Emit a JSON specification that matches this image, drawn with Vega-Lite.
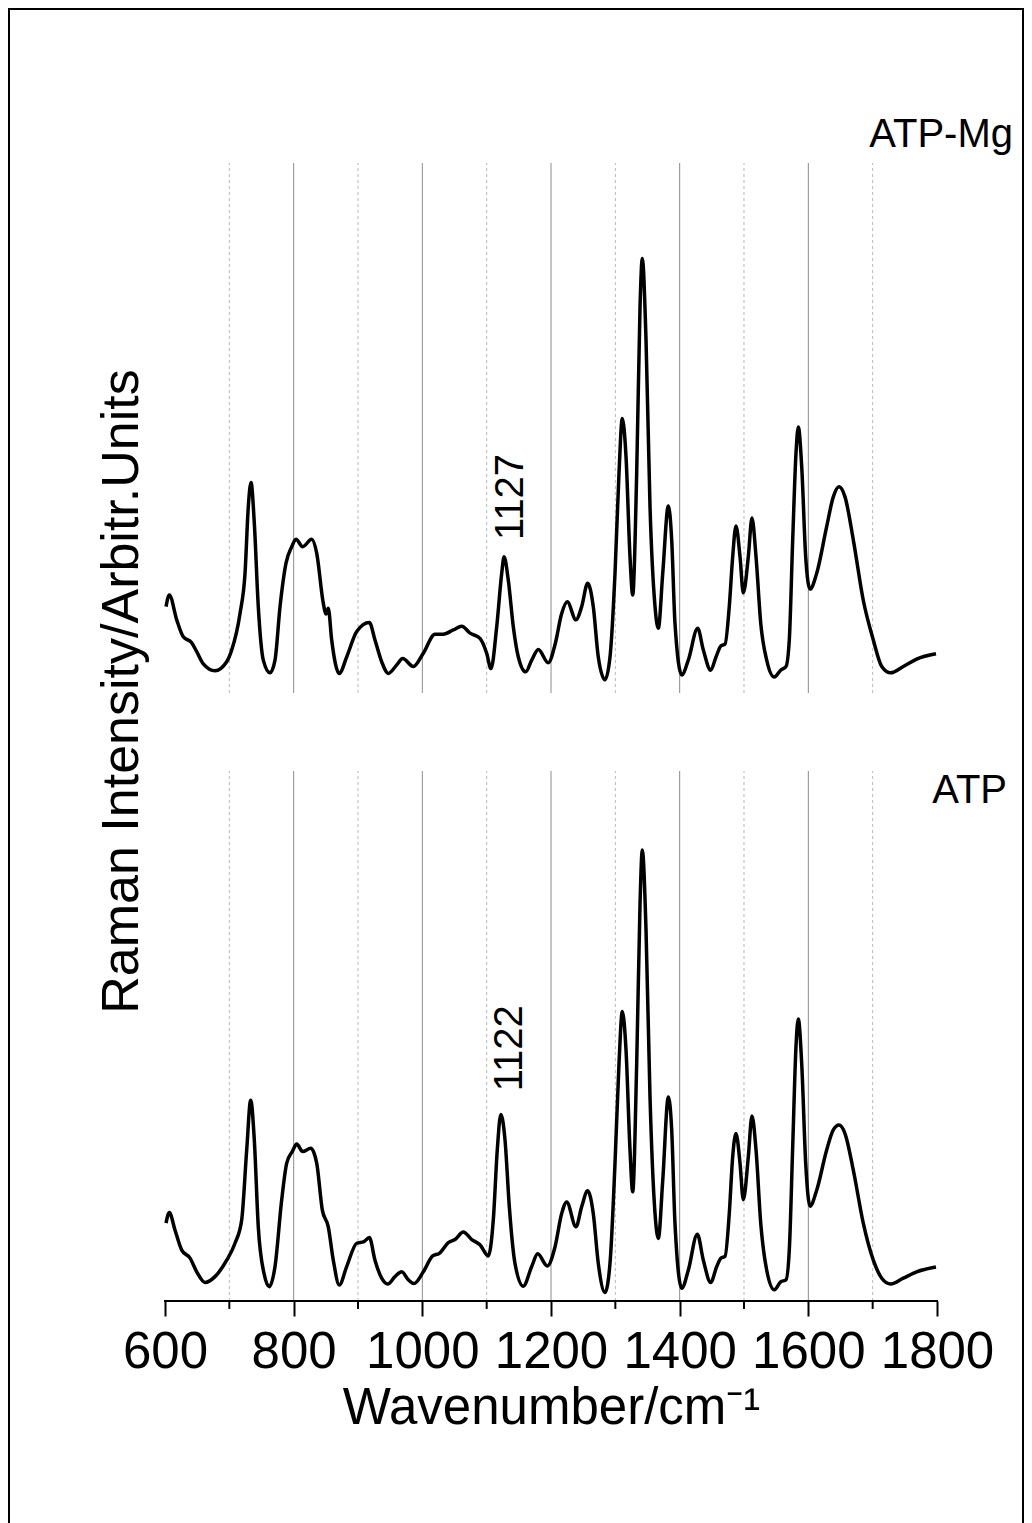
{
  "$schema": "https://vega.github.io/schema/vega-lite/v6.json",
  "width": 1014,
  "height": 1514,
  "autosize": {"type": "none"},
  "padding": {"left": 9, "top": 9, "right": 9, "bottom": 0},
  "background": "white",
  "config": {
    "view": {"stroke": "black", "strokeWidth": 2, "strokeDash": [2528, 1014, 1700]},
    "font": "Liberation Sans"
  },
  "datasets": {
    "atp_mg": [
      {"wn": 601.6, "i": 16.3}, {"wn": 606.7, "i": 18.5}, {"wn": 618.2, "i": 13.8}, {"wn": 628.4, "i": 10.6},
      {"wn": 641.5, "i": 9.5}, {"wn": 649.3, "i": 7.8}, {"wn": 659.5, "i": 5.5}, {"wn": 677.7, "i": 4.2},
      {"wn": 695.9, "i": 5.9}, {"wn": 703.7, "i": 8.1}, {"wn": 716.6, "i": 15.0}, {"wn": 724.4, "i": 22.6},
      {"wn": 729.5, "i": 35.2}, {"wn": 733.7, "i": 39.7}, {"wn": 738.8, "i": 32.1}, {"wn": 745.0, "i": 16.3},
      {"wn": 752.8, "i": 6.2}, {"wn": 763.2, "i": 3.8}, {"wn": 771.0, "i": 6.2}, {"wn": 778.8, "i": 16.3},
      {"wn": 788.1, "i": 24.5}, {"wn": 797.0, "i": 27.6}, {"wn": 803.6, "i": 29.0}, {"wn": 814.0, "i": 27.6},
      {"wn": 828.0, "i": 29.0}, {"wn": 835.8, "i": 26.4}, {"wn": 846.1, "i": 16.9}, {"wn": 850.3, "i": 14.9},
      {"wn": 853.8, "i": 16.0}, {"wn": 859.1, "i": 10.0}, {"wn": 870.9, "i": 3.7}, {"wn": 882.4, "i": 6.8},
      {"wn": 898.0, "i": 11.6}, {"wn": 917.6, "i": 13.3}, {"wn": 926.4, "i": 10.0}, {"wn": 936.8, "i": 5.9},
      {"wn": 947.1, "i": 3.7}, {"wn": 960.2, "i": 5.3}, {"wn": 969.5, "i": 6.5}, {"wn": 986.0, "i": 5.0},
      {"wn": 1001.5, "i": 7.5}, {"wn": 1019.7, "i": 11.1}, {"wn": 1032.6, "i": 11.1}, {"wn": 1048.1, "i": 11.9},
      {"wn": 1061.2, "i": 12.6}, {"wn": 1074.1, "i": 11.3}, {"wn": 1089.6, "i": 10.3}, {"wn": 1100.0, "i": 7.5},
      {"wn": 1106.7, "i": 4.6}, {"wn": 1115.6, "i": 12.5}, {"wn": 1123.4, "i": 22.6}, {"wn": 1127.0, "i": 25.7},
      {"wn": 1133.6, "i": 21.3}, {"wn": 1141.4, "i": 12.5}, {"wn": 1149.2, "i": 6.8}, {"wn": 1160.7, "i": 4.0},
      {"wn": 1170.0, "i": 6.2}, {"wn": 1180.3, "i": 8.2}, {"wn": 1195.8, "i": 5.7}, {"wn": 1206.2, "i": 9.1},
      {"wn": 1216.6, "i": 15.0}, {"wn": 1225.3, "i": 17.2}, {"wn": 1238.8, "i": 13.8}, {"wn": 1247.7, "i": 16.3},
      {"wn": 1257.0, "i": 20.7}, {"wn": 1265.7, "i": 16.3}, {"wn": 1273.5, "i": 6.8}, {"wn": 1283.9, "i": 2.5},
      {"wn": 1291.7, "i": 6.8}, {"wn": 1299.5, "i": 22.6}, {"wn": 1305.7, "i": 41.5}, {"wn": 1310.8, "i": 51.8},
      {"wn": 1316.6, "i": 44.6}, {"wn": 1322.8, "i": 25.7}, {"wn": 1327.0, "i": 18.5}, {"wn": 1333.2, "i": 41.5},
      {"wn": 1338.4, "i": 72.9}, {"wn": 1341.9, "i": 82.0}, {"wn": 1347.7, "i": 66.6}, {"wn": 1353.9, "i": 35.2},
      {"wn": 1361.7, "i": 16.3}, {"wn": 1366.8, "i": 12.2}, {"wn": 1373.7, "i": 22.6}, {"wn": 1382.4, "i": 35.3},
      {"wn": 1387.6, "i": 28.9}, {"wn": 1392.7, "i": 13.2}, {"wn": 1403.2, "i": 3.4}, {"wn": 1413.4, "i": 6.2},
      {"wn": 1428.0, "i": 12.2}, {"wn": 1436.8, "i": 8.1}, {"wn": 1448.2, "i": 4.3}, {"wn": 1456.5, "i": 6.8},
      {"wn": 1464.2, "i": 8.9}, {"wn": 1470.5, "i": 9.2}, {"wn": 1477.1, "i": 16.3}, {"wn": 1482.4, "i": 25.7},
      {"wn": 1487.5, "i": 31.5}, {"wn": 1493.8, "i": 25.7}, {"wn": 1498.9, "i": 18.9}, {"wn": 1506.7, "i": 25.7},
      {"wn": 1512.4, "i": 33.0}, {"wn": 1518.7, "i": 25.7}, {"wn": 1526.0, "i": 13.2}, {"wn": 1535.3, "i": 6.2},
      {"wn": 1547.1, "i": 3.0}, {"wn": 1557.0, "i": 4.3}, {"wn": 1565.3, "i": 5.0}, {"wn": 1570.4, "i": 10.0},
      {"wn": 1575.7, "i": 28.9}, {"wn": 1580.8, "i": 45.2}, {"wn": 1584.4, "i": 50.2}, {"wn": 1589.7, "i": 42.7},
      {"wn": 1595.9, "i": 25.7}, {"wn": 1602.6, "i": 19.6}, {"wn": 1613.0, "i": 22.6}, {"wn": 1628.5, "i": 31.4},
      {"wn": 1638.8, "i": 37.0}, {"wn": 1647.7, "i": 38.9}, {"wn": 1657.0, "i": 37.0}, {"wn": 1669.9, "i": 28.9},
      {"wn": 1685.4, "i": 17.5}, {"wn": 1701.0, "i": 10.0}, {"wn": 1714.1, "i": 5.0}, {"wn": 1728.0, "i": 3.8},
      {"wn": 1747.6, "i": 5.0}, {"wn": 1768.4, "i": 6.4}, {"wn": 1798.4, "i": 7.4}
    ],
    "atp": [
      {"wn": 601.6, "i": 14.7}, {"wn": 606.7, "i": 16.7}, {"wn": 615.5, "i": 13.4}, {"wn": 626.0, "i": 9.6},
      {"wn": 638.9, "i": 8.1}, {"wn": 649.3, "i": 5.5}, {"wn": 662.2, "i": 3.5}, {"wn": 677.7, "i": 4.6},
      {"wn": 695.9, "i": 7.7}, {"wn": 708.8, "i": 10.9}, {"wn": 719.2, "i": 15.3}, {"wn": 727.0, "i": 28.5},
      {"wn": 733.2, "i": 37.9}, {"wn": 738.8, "i": 30.4}, {"wn": 745.0, "i": 14.0}, {"wn": 753.9, "i": 5.2},
      {"wn": 762.1, "i": 2.7}, {"wn": 771.0, "i": 6.5}, {"wn": 781.4, "i": 19.1}, {"wn": 789.2, "i": 26.0},
      {"wn": 797.9, "i": 28.2}, {"wn": 804.7, "i": 29.6}, {"wn": 814.0, "i": 28.2}, {"wn": 826.5, "i": 28.8},
      {"wn": 835.8, "i": 26.0}, {"wn": 844.5, "i": 17.2}, {"wn": 853.8, "i": 14.0}, {"wn": 861.6, "i": 7.7},
      {"wn": 870.9, "i": 3.0}, {"wn": 882.4, "i": 6.5}, {"wn": 898.0, "i": 10.9}, {"wn": 909.3, "i": 11.2},
      {"wn": 917.6, "i": 12.0}, {"wn": 926.4, "i": 7.7}, {"wn": 936.8, "i": 4.3}, {"wn": 946.2, "i": 3.2},
      {"wn": 957.5, "i": 4.6}, {"wn": 967.9, "i": 5.5}, {"wn": 978.2, "i": 4.0}, {"wn": 987.0, "i": 3.3},
      {"wn": 1001.5, "i": 5.5}, {"wn": 1016.1, "i": 8.5}, {"wn": 1026.4, "i": 9.0}, {"wn": 1040.4, "i": 11.0},
      {"wn": 1050.8, "i": 11.6}, {"wn": 1063.7, "i": 13.0}, {"wn": 1076.7, "i": 11.6}, {"wn": 1089.6, "i": 10.6},
      {"wn": 1102.5, "i": 8.5}, {"wn": 1110.3, "i": 15.3}, {"wn": 1116.5, "i": 28.5}, {"wn": 1122.0, "i": 35.2},
      {"wn": 1128.5, "i": 30.4}, {"wn": 1135.2, "i": 17.8}, {"wn": 1144.0, "i": 7.1}, {"wn": 1156.9, "i": 2.8},
      {"wn": 1170.0, "i": 6.5}, {"wn": 1179.3, "i": 8.9}, {"wn": 1194.2, "i": 6.6}, {"wn": 1206.2, "i": 10.2},
      {"wn": 1216.6, "i": 16.5}, {"wn": 1224.4, "i": 18.7}, {"wn": 1238.8, "i": 14.0}, {"wn": 1247.7, "i": 17.8},
      {"wn": 1257.0, "i": 20.8}, {"wn": 1265.7, "i": 16.5}, {"wn": 1273.5, "i": 7.1}, {"wn": 1283.9, "i": 1.6},
      {"wn": 1291.7, "i": 7.1}, {"wn": 1299.5, "i": 26.0}, {"wn": 1305.7, "i": 44.8}, {"wn": 1310.8, "i": 54.6},
      {"wn": 1316.6, "i": 47.4}, {"wn": 1322.8, "i": 28.5}, {"wn": 1327.0, "i": 20.6}, {"wn": 1333.2, "i": 44.8},
      {"wn": 1338.4, "i": 75.0}, {"wn": 1341.9, "i": 85.1}, {"wn": 1347.7, "i": 70.0}, {"wn": 1353.9, "i": 38.5},
      {"wn": 1361.7, "i": 16.5}, {"wn": 1366.8, "i": 11.8}, {"wn": 1373.7, "i": 22.8}, {"wn": 1382.4, "i": 38.5},
      {"wn": 1387.6, "i": 32.3}, {"wn": 1392.7, "i": 14.7}, {"wn": 1403.2, "i": 2.4}, {"wn": 1413.4, "i": 5.8},
      {"wn": 1427.4, "i": 12.6}, {"wn": 1436.8, "i": 7.7}, {"wn": 1448.2, "i": 3.5}, {"wn": 1457.6, "i": 6.5},
      {"wn": 1464.2, "i": 8.1}, {"wn": 1470.5, "i": 8.4}, {"wn": 1477.1, "i": 16.5}, {"wn": 1482.4, "i": 27.2},
      {"wn": 1487.5, "i": 31.6}, {"wn": 1493.8, "i": 26.0}, {"wn": 1498.9, "i": 19.1}, {"wn": 1506.7, "i": 27.2},
      {"wn": 1512.4, "i": 34.9}, {"wn": 1518.7, "i": 28.5}, {"wn": 1526.0, "i": 14.7}, {"wn": 1535.3, "i": 5.8},
      {"wn": 1547.1, "i": 2.1}, {"wn": 1557.0, "i": 3.6}, {"wn": 1565.3, "i": 4.0}, {"wn": 1570.4, "i": 9.6},
      {"wn": 1575.7, "i": 29.1}, {"wn": 1580.8, "i": 48.0}, {"wn": 1584.4, "i": 53.2}, {"wn": 1589.7, "i": 44.8},
      {"wn": 1595.9, "i": 26.0}, {"wn": 1602.6, "i": 17.9}, {"wn": 1613.0, "i": 20.9}, {"wn": 1628.5, "i": 28.5},
      {"wn": 1638.8, "i": 32.3}, {"wn": 1647.7, "i": 33.2}, {"wn": 1657.0, "i": 31.6}, {"wn": 1669.9, "i": 24.7},
      {"wn": 1685.4, "i": 14.7}, {"wn": 1701.0, "i": 7.7}, {"wn": 1714.1, "i": 4.3}, {"wn": 1728.0, "i": 3.2},
      {"wn": 1747.6, "i": 4.3}, {"wn": 1768.4, "i": 5.5}, {"wn": 1798.4, "i": 6.4}
    ],
    "grid_major": [{"wn": 800}, {"wn": 1000}, {"wn": 1200}, {"wn": 1400}, {"wn": 1600}],
    "grid_minor": [{"wn": 700}, {"wn": 900}, {"wn": 1100}, {"wn": 1300}, {"wn": 1500}, {"wn": 1700}]
  },
  "resolve": {"scale": {"y": "independent"}},
  "layer": [
    {
      "layer": [
        {
          "data": {"name": "grid_minor"},
          "mark": {"type": "rule", "color": "#b8b8b8", "strokeWidth": 1, "strokeDash": [3, 3]},
          "encoding": {
            "x": {"field": "wn", "type": "quantitative"},
            "y": {"datum": 0},
            "y2": {"datum": 100}
          }
        },
        {
          "data": {"name": "grid_major"},
          "mark": {"type": "rule", "color": "#8c8c8c", "strokeWidth": 1},
          "encoding": {
            "x": {"field": "wn", "type": "quantitative"},
            "y": {"datum": 0},
            "y2": {"datum": 100}
          }
        },
        {
          "data": {"name": "grid_minor"},
          "mark": {"type": "rule", "color": "black", "strokeWidth": 2},
          "encoding": {
            "x": {"field": "wn", "type": "quantitative"},
            "y": {"datum": 0},
            "y2": {"datum": -1.5}
          }
        },
        {
          "data": {"values": [{}]},
          "mark": {"type": "rule", "color": "black", "strokeWidth": 2, "strokeCap": "square"},
          "encoding": {
            "x": {"datum": 600},
            "x2": {"datum": 1800},
            "y": {"datum": 0}
          }
        },
        {
          "data": {"name": "atp"},
          "mark": {"type": "line", "color": "black", "strokeWidth": 3.5, "interpolate": "monotone", "strokeJoin": "round"},
          "encoding": {
            "x": {
              "field": "wn",
              "type": "quantitative",
              "scale": {"domain": [357.51, 1933.68], "nice": false, "zero": false},
              "axis": {
                "orient": "bottom",
                "offset": -222,
                "values": [600, 800, 1000, 1200, 1400, 1600, 1800],
                "format": "d",
                "domain": false,
                "grid": false,
                "tickColor": "black",
                "tickWidth": 2,
                "tickSize": 15,
                "labelFont": "Liberation Sans",
                "labelFontSize": 51,
                "labelColor": "black",
                "labelPadding": 11,
                "labelOverlap": false,
                "labelFlush": false,
                "labelBound": false,
                "title": "Wavenumber/cm⁻¹",
                "titleFont": "Liberation Sans",
                "titleFontSize": 51,
                "titleFontWeight": "normal",
                "titleColor": "black",
                "titleX": 542,
                "titleY": 122,
                "titleAlign": "center",
                "titleBaseline": "alphabetic"
              }
            },
            "y": {
              "field": "i",
              "type": "quantitative",
              "scale": {"domain": [-41.887, 243.774], "nice": false, "zero": false},
              "axis": {
                "domain": false,
                "ticks": false,
                "labels": false,
                "grid": false,
                "title": "Raman Intensity/Arbitr.Units",
                "titleFont": "Liberation Sans",
                "titleFontSize": 52,
                "titleFontWeight": "normal",
                "titleColor": "black",
                "titleAngle": 270,
                "titleX": 128,
                "titleY": 682,
                "titleAlign": "center",
                "titleBaseline": "alphabetic"
              }
            }
          }
        },
        {
          "data": {"values": [{}]},
          "mark": {"type": "text", "text": "1122", "angle": 270, "align": "center", "baseline": "alphabetic", "dy": 21, "font": "Liberation Sans", "fontSize": 40, "color": "black"},
          "encoding": {
            "x": {"datum": 1122},
            "y": {"datum": 47.7}
          }
        },
        {
          "data": {"values": [{}]},
          "mark": {"type": "text", "text": "ATP", "align": "right", "baseline": "alphabetic", "font": "Liberation Sans", "fontSize": 40, "color": "black"},
          "encoding": {
            "x": {"datum": 1908.8},
            "y": {"datum": 94.0}
          }
        }
      ]
    },
    {
      "layer": [
        {
          "data": {"name": "grid_minor"},
          "mark": {"type": "rule", "color": "#b8b8b8", "strokeWidth": 1, "strokeDash": [3, 3]},
          "encoding": {
            "x": {"field": "wn", "type": "quantitative"},
            "y": {"datum": 0, "axis": null},
            "y2": {"datum": 100}
          }
        },
        {
          "data": {"name": "grid_major"},
          "mark": {"type": "rule", "color": "#8c8c8c", "strokeWidth": 1},
          "encoding": {
            "x": {"field": "wn", "type": "quantitative"},
            "y": {"datum": 0, "axis": null},
            "y2": {"datum": 100}
          }
        },
        {
          "data": {"name": "atp_mg"},
          "mark": {"type": "line", "color": "black", "strokeWidth": 3.5, "interpolate": "monotone", "strokeJoin": "round"},
          "encoding": {
            "x": {
              "field": "wn",
              "type": "quantitative",
              "scale": {"domain": [357.51, 1933.68], "nice": false, "zero": false}
            },
            "y": {
              "field": "i",
              "type": "quantitative",
              "scale": {"domain": [-156.604, 129.057], "nice": false, "zero": false},
              "axis": null
            }
          }
        },
        {
          "data": {"values": [{}]},
          "mark": {"type": "text", "text": "1127", "angle": 270, "align": "center", "baseline": "alphabetic", "dy": 19, "font": "Liberation Sans", "fontSize": 40, "color": "black"},
          "encoding": {
            "x": {"datum": 1127},
            "y": {"datum": 37.0, "axis": null}
          }
        },
        {
          "data": {"values": [{}]},
          "mark": {"type": "text", "text": "ATP-Mg", "align": "right", "baseline": "alphabetic", "font": "Liberation Sans", "fontSize": 40, "color": "black"},
          "encoding": {
            "x": {"datum": 1918.1},
            "y": {"datum": 103.0, "axis": null}
          }
        }
      ]
    }
  ]
}
